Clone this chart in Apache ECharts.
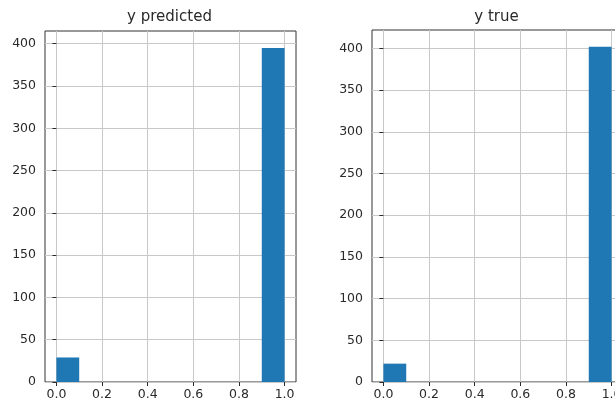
<!DOCTYPE html>
<html>
<head>
<meta charset="utf-8">
<script src="https://cdn.jsdelivr.net/npm/echarts@6/dist/echarts.min.js"></script>
<style>
  html, body { margin: 0; padding: 0; background: #fff; }
  #chart { width: 615px; height: 405px; }
</style>
</head>
<body>
<div id="chart"></div>
<script>
// Histogram bin edges (10 equal bins over [0, 1])
const binStarts = [0.0, 0.1, 0.2, 0.3, 0.4, 0.5, 0.6, 0.7, 0.8, 0.9];
const binEnds   = [0.1, 0.2, 0.3, 0.4, 0.5, 0.6, 0.7, 0.8, 0.9, 1.0];

// Counts per bin
const predictedCounts = [29, 0, 0, 0, 0, 0, 0, 0, 0, 395];
const trueCounts      = [22, 0, 0, 0, 0, 0, 0, 0, 0, 402];

// Panel titles and tick labels
const panelTitles = ['y predicted', 'y true'];
const xTicks = [0.0, 0.2, 0.4, 0.6, 0.8, 1.0];
const yTicks = [0, 50, 100, 150, 200, 250, 300, 350, 400];

const FONT = 'DejaVu Sans';
const TEXT = '#2a2a2a';
const BAR = '#1f77b4';
const GRIDLINE = '#c8c8c8';

function binData(counts) {
  return counts.map((c, i) => [binStarts[i], binEnds[i], c]);
}

function renderBin(params, api) {
  const y = api.value(2);
  if (!y) return null;
  const p0 = api.coord([api.value(0), y]);
  const p1 = api.coord([api.value(1), 0]);
  return {
    type: 'rect',
    shape: { x: p0[0], y: p0[1], width: p1[0] - p0[0], height: p1[1] - p0[1] },
    style: { fill: BAR }
  };
}

function xAxisFor(gridIndex) {
  return {
    type: 'value', gridIndex, min: -0.05, max: 1.05,
    axisLine: { show: false },
    axisTick: { show: true, customValues: xTicks, length: 4,
                lineStyle: { color: TEXT, width: 1 } },
    axisLabel: { customValues: xTicks, color: TEXT, fontFamily: FONT, fontSize: 12.5, margin: 6,
                 formatter: v => v.toFixed(1) },
    splitLine: { show: true, lineStyle: { color: GRIDLINE, width: 1 } }
  };
}

function yAxisFor(gridIndex, max) {
  return {
    type: 'value', gridIndex, min: 0, max,
    axisLine: { show: false },
    axisTick: { show: true, customValues: yTicks, length: 4,
                lineStyle: { color: TEXT, width: 1 } },
    axisLabel: { customValues: yTicks, color: TEXT, fontFamily: FONT, fontSize: 12.5, margin: 9 },
    splitLine: { show: true, lineStyle: { color: GRIDLINE, width: 1 } }
  };
}

function panelTitle(text, cx) {
  return {
    type: 'text', x: cx, y: 17,
    style: { text, fontFamily: FONT, fontSize: 15, fill: TEXT,
             textAlign: 'center', textVerticalAlign: 'middle' }
  };
}

const chart = echarts.init(document.getElementById('chart'), null, { renderer: 'canvas' });

chart.setOption({
  animation: false,
  backgroundColor: '#fff',
  graphic: [panelTitle(panelTitles[0], 169.5), panelTitle(panelTitles[1], 496.5)],
  grid: [
    { left: 45, top: 31, width: 251, height: 351, show: true, borderColor: '#333', borderWidth: 1,
      backgroundColor: 'transparent', containLabel: false, outerBoundsMode: 'none' },
    { left: 372, top: 30, width: 251, height: 352, show: true, borderColor: '#333', borderWidth: 1,
      backgroundColor: 'transparent', containLabel: false, outerBoundsMode: 'none' }
  ],
  xAxis: [xAxisFor(0), xAxisFor(1)],
  yAxis: [yAxisFor(0, 415), yAxisFor(1, 422)],
  series: [
    { type: 'custom', xAxisIndex: 0, yAxisIndex: 0, renderItem: renderBin,
      encode: { x: [0, 1], y: 2 }, data: binData(predictedCounts), z: 3 },
    { type: 'custom', xAxisIndex: 1, yAxisIndex: 1, renderItem: renderBin,
      encode: { x: [0, 1], y: 2 }, data: binData(trueCounts), z: 3 }
  ]
});
</script>
</body>
</html>
